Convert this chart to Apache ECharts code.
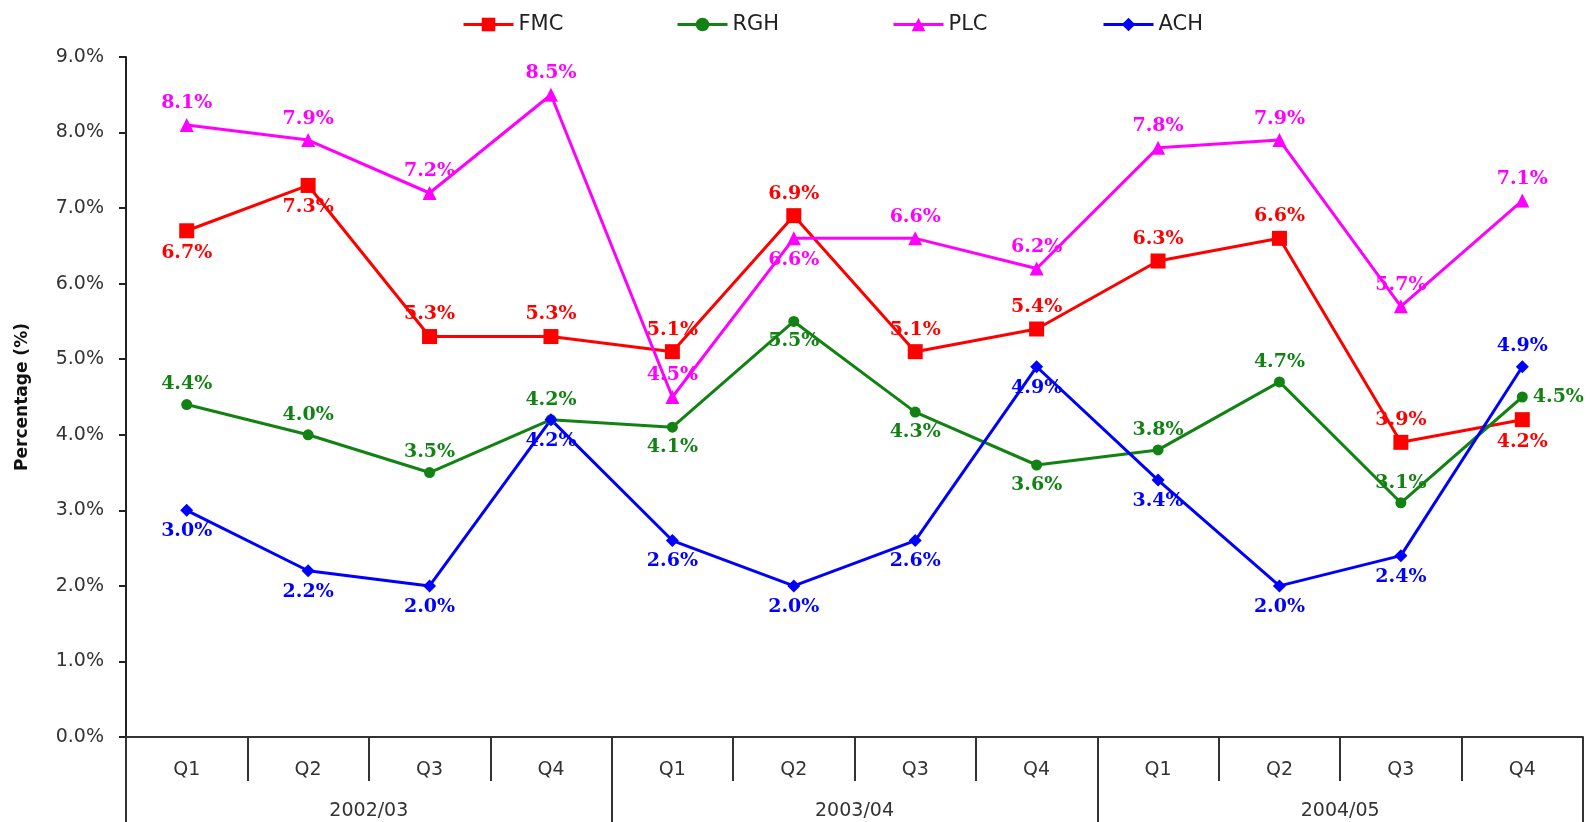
<!DOCTYPE html>
<html>
<head>
<meta charset="utf-8">
<script src="https://cdn.jsdelivr.net/npm/echarts@6/dist/echarts.min.js"></script>
<style>
html,body{margin:0;padding:0;background:#fff;}
#chart{width:1591px;height:822px;}
</style>
</head>
<body>
<div id="chart"></div>
<script>
// ---- data ----
const quarters = ['Q1','Q2','Q3','Q4','Q1','Q2','Q3','Q4','Q1','Q2','Q3','Q4'];
const years = ['2002/03','2003/04','2004/05'];
const yTicks = [0,1,2,3,4,5,6,7,8,9];
const fmc = [6.7, 7.3, 5.3, 5.3, 5.1, 6.9, 5.1, 5.4, 6.3, 6.6, 3.9, 4.2];
const rgh = [4.4, 4.0, 3.5, 4.2, 4.1, 5.5, 4.3, 3.6, 3.8, 4.7, 3.1, 4.5];
const plc = [8.1, 7.9, 7.2, 8.5, 4.5, 6.6, 6.6, 6.2, 7.8, 7.9, 5.7, 7.1];
const ach = [3.0, 2.2, 2.0, 4.2, 2.6, 2.0, 2.6, 4.9, 3.4, 2.0, 2.4, 4.9];

// ---- label placement (style) ----
const T='top', B='bottom', R='right';
const fmcPos = [B,B,T,T,T,T,T,T,T,T,T,B];
const rghPos = [T,T,T,T,B,B,B,B,T,T,T,R];
const plcPos = [T,T,T,T,T,B,T,T,T,T,T,T];
const achPos = [B,B,B,B,B,B,B,B,B,B,B,T];

const labelFont = {fontFamily:'DejaVu Serif', fontWeight:'bold', fontSize:19};

function mk(name, vals, pos, color, symbol, size) {
  return {
    name: name,
    type: 'line',
    xAxisIndex: 0,
    data: vals.map((v,i)=>({value:v, label:{position:pos[i]}})),
    symbol: symbol,
    symbolSize: size,
    lineStyle: {color: color, width: 3},
    itemStyle: {color: color},
    label: Object.assign({show:true, color:color, distance:5,
      formatter: p => p.value.toFixed(1) + '%'}, labelFont),
    emphasis: {disabled: true},
    animation: false
  };
}

const chart = echarts.init(document.getElementById('chart'));
const legendText = {fontFamily:'DejaVu Sans', fontSize:21, color:'#222'};
function lg(name, left) {
  return {data:[name], left:left, top:9, itemWidth:50, itemHeight:17, itemGap:4,
    lineStyle:{width:3}, textStyle:legendText};
}
chart.setOption({
  backgroundColor:'#fff',
  legend: [lg('FMC',457), lg('RGH',671), lg('PLC',887), lg('ACH',1097)],
  grid: {left:126, right:8, top:57, bottom:85, containLabel:false},
  xAxis: [
    {
      type:'category', data: quarters, position:'bottom', boundaryGap:true,
      axisLine:{show:true, lineStyle:{color:'#333', width:2}},
      axisTick:{show:true, interval:0, length:44, lineStyle:{color:'#333', width:2}},
      axisLabel:{interval:0, margin:24, fontFamily:'DejaVu Sans', fontSize:19, color:'#333'},
      splitLine:{show:false}
    },
    {
      type:'category', data: years, position:'bottom', boundaryGap:true,
      axisLine:{show:false},
      axisTick:{show:true, interval:0, length:95, lineStyle:{color:'#333', width:2}},
      axisLabel:{interval:0, margin:65, fontFamily:'DejaVu Sans', fontSize:19, color:'#333'},
      splitLine:{show:false}
    }
  ],
  yAxis: {
    type:'value', min:yTicks[0], max:yTicks[yTicks.length-1], interval:1,
    name:'Percentage (%)', nameLocation:'middle', nameRotate:90, nameGap:95,
    nameTextStyle:{fontFamily:'DejaVu Sans', fontWeight:'bold', fontSize:17, color:'#111'},
    axisLine:{show:true, lineStyle:{color:'#222', width:2}},
    axisTick:{show:true, length:7, lineStyle:{color:'#222', width:2}},
    axisLabel:{margin:22, fontFamily:'DejaVu Sans', fontSize:19, color:'#333',
      formatter: v => v.toFixed(1) + '%'},
    splitLine:{show:false}
  },
  series: [
    mk('FMC', fmc, fmcPos, '#ff0000', 'rect', 15),
    mk('RGH', rgh, rghPos, '#128212', 'circle', 11),
    mk('PLC', plc, plcPos, '#ff00ff', 'triangle', 14),
    mk('ACH', ach, achPos, '#0000ff', 'diamond', 13)
  ]
});
</script>
</body>
</html>
